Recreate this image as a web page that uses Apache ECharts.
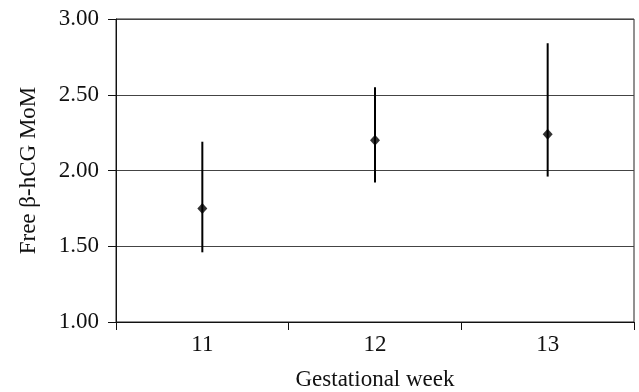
<!DOCTYPE html>
<html>
<head>
<meta charset="utf-8">
<script src="https://cdn.jsdelivr.net/npm/echarts@6/dist/echarts.min.js"></script>
<style>
    html, body { margin: 0; padding: 0; background: #fff; }
    #chart { width: 639px; height: 392px; }
</style>
</head>
<body>
<div id="chart"></div>
<script>
    // gestational weeks
    var weeks = ['11', '12', '13'];
    // median MoM and range
    var means = [1.75, 2.20, 2.24];
    var lows = [1.46, 1.92, 1.96];
    var highs = [2.19, 2.55, 2.84];

    var barData = weeks.map(function (w, i) { return [i, lows[i], highs[i]]; });
    var font = '"Liberation Serif", "DejaVu Serif", serif';

    var chart = echarts.init(document.getElementById('chart'));
    chart.setOption({
        animation: false,
        textStyle: { fontFamily: font },
        grid: {
            left: 116, right: 5, top: 19, bottom: 70,
            containLabel: false,
            outerBoundsMode: 'none',
            show: true, borderColor: '#222', borderWidth: 1
        },
        xAxis: {
            type: 'category',
            data: weeks,
            boundaryGap: true,
            name: 'Gestational week',
            nameLocation: 'middle',
            nameGap: 46,
            nameTextStyle: { fontFamily: font, fontSize: 23, color: '#111' },
            axisLine: { lineStyle: { color: '#111', width: 1 } },
            axisTick: { show: true, length: 8, lineStyle: { color: '#111' } },
            axisLabel: { fontFamily: font, fontSize: 23, color: '#111', margin: 11 }
        },
        yAxis: {
            type: 'value',
            min: 1, max: 3, interval: 0.5,
            name: 'Free β-hCG MoM',
            nameLocation: 'middle',
            nameGap: 76,
            nameTextStyle: { fontFamily: font, fontSize: 23, color: '#111' },
            axisLine: { show: true, lineStyle: { color: '#111', width: 1 } },
            axisTick: { show: true, length: 8, lineStyle: { color: '#111' } },
            axisLabel: {
                fontFamily: font, fontSize: 23, color: '#111', margin: 17,
                formatter: function (v) { return v.toFixed(2); }
            },
            splitLine: { lineStyle: { color: '#444', width: 1 } }
        },
        series: [
            {
                type: 'custom',
                data: barData,
                renderItem: function (params, api) {
                    var top = api.coord([api.value(0), api.value(2)]);
                    var bot = api.coord([api.value(0), api.value(1)]);
                    return {
                        type: 'line',
                        shape: { x1: top[0], y1: top[1], x2: bot[0], y2: bot[1] },
                        style: { stroke: '#000', lineWidth: 2 }
                    };
                },
                z: 3
            },
            {
                type: 'scatter',
                data: means,
                symbol: 'diamond',
                symbolSize: [10, 11],
                itemStyle: { color: '#000' },
                z: 4
            }
        ]
    });
</script>
</body>
</html>
